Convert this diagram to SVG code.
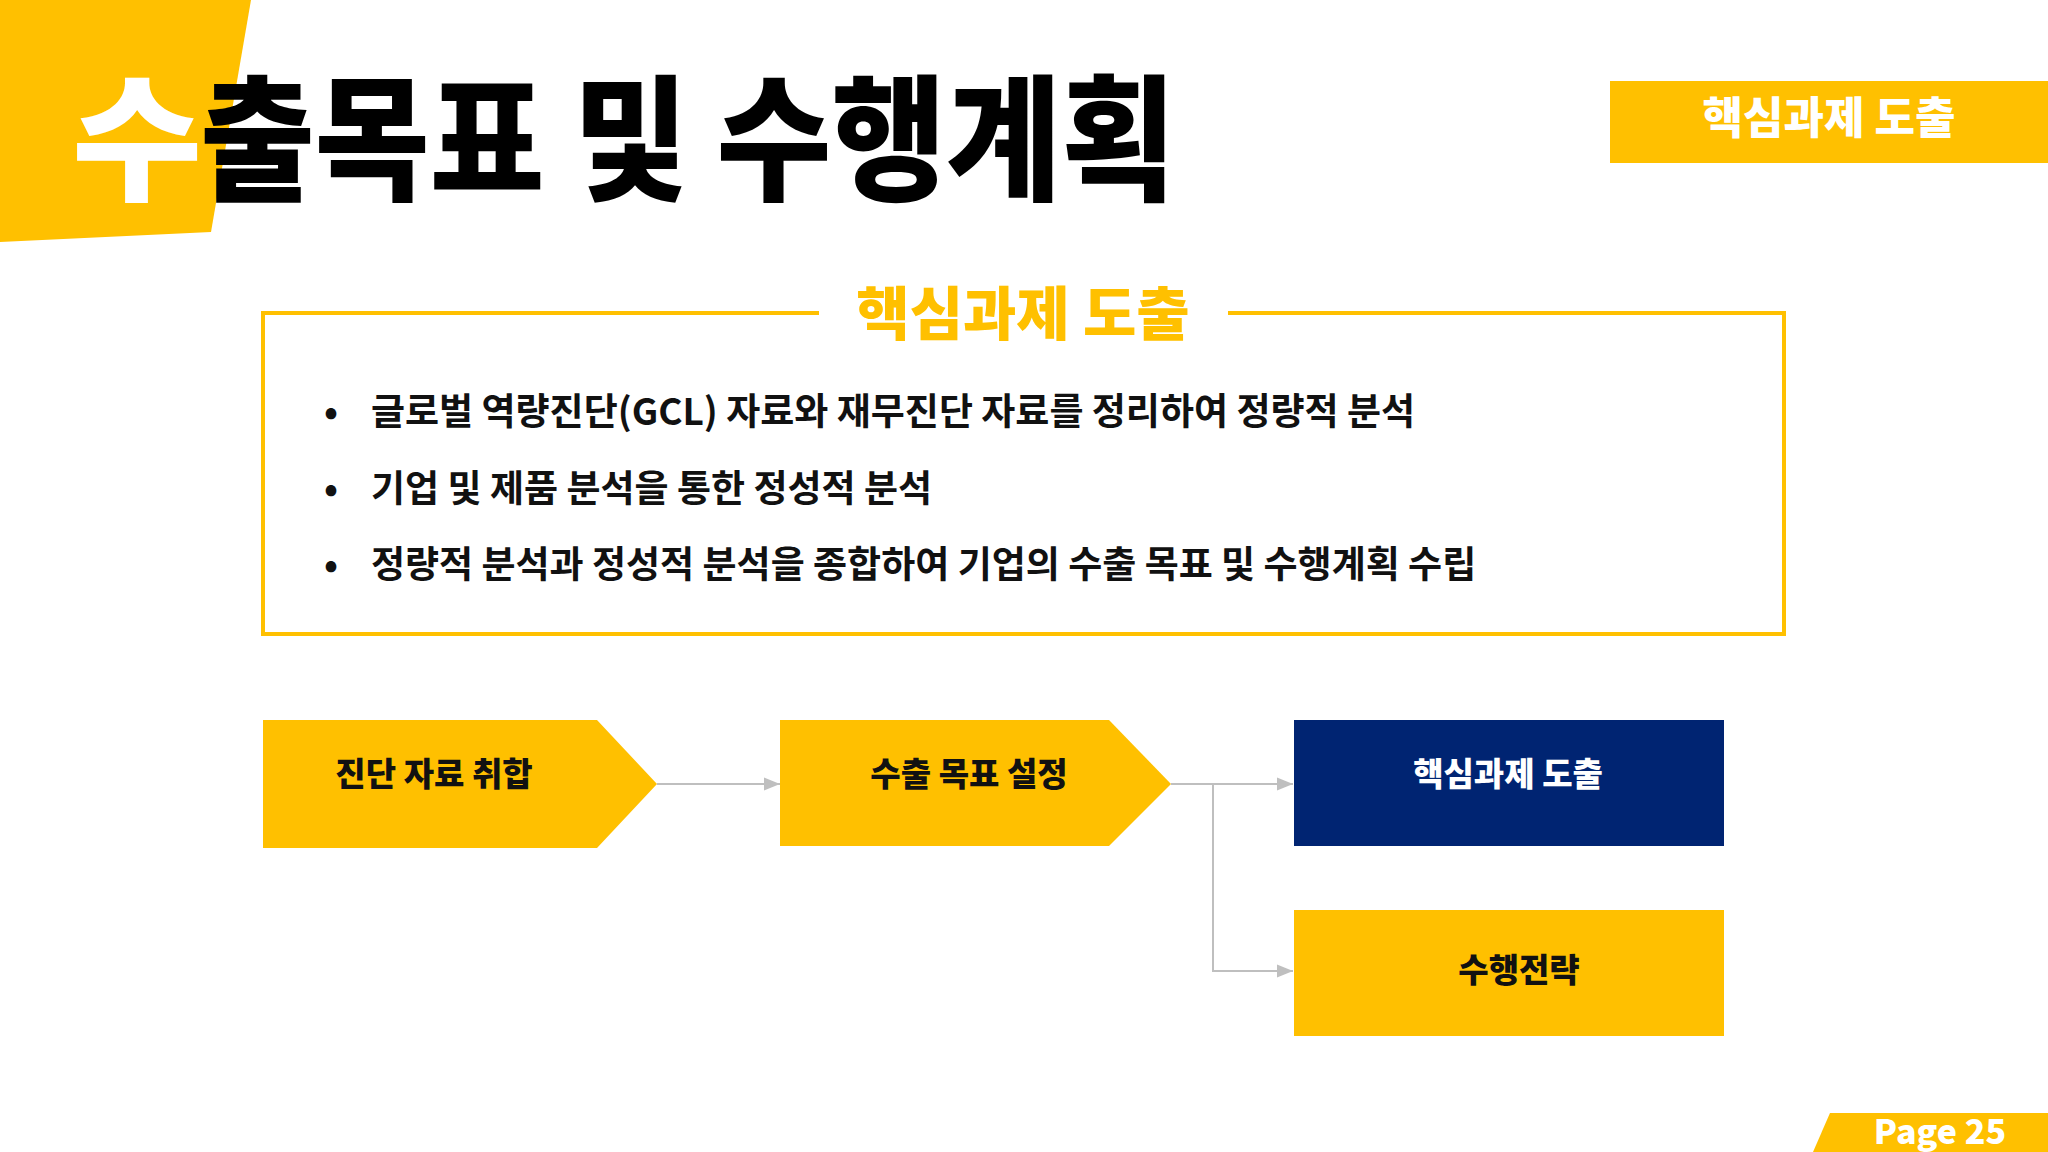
<svg xmlns="http://www.w3.org/2000/svg" width="2048" height="1152" viewBox="0 0 2048 1152">
<defs>
<style>
text{font-family:"Noto Sans CJK KR","Noto Sans",sans-serif;font-weight:900}
.y{fill:#FFC000}
.b{font-size:37px;font-weight:700;fill:#111}
.n{font-size:33px;text-anchor:middle;fill:#111}
.w{fill:#fff}
.c{stroke:#bfbfbf;stroke-width:2;fill:none}
</style>
<marker id="a" viewBox="0 0 10 10" refX="10" refY="5" markerWidth="8" markerHeight="8" orient="auto"><path d="M0,1L10,5L0,9z" fill="#bfbfbf"/></marker>
</defs>
<rect width="2048" height="1152" fill="#fff"/>
<polygon class="y" points="0,0 251,0 211,232 0,242"/>
<text x="72" y="190" font-size="136" fill="#fff" textLength="130" lengthAdjust="spacingAndGlyphs">수</text>
<text x="200" y="190" font-size="136" fill="#000" textLength="976" lengthAdjust="spacingAndGlyphs">출목표 및 수행계획</text>
<g id="tag"><rect x="1610" y="81" width="438" height="82" class="y"/><text x="1829" y="134" font-size="44" fill="#fff" text-anchor="middle">핵심과제 도출</text></g>
<g id="box">
<rect x="263" y="313" width="1521" height="321" fill="none" stroke="#FFC000" stroke-width="4"/>
<rect x="819" y="290" width="409" height="50" fill="#fff"/>
<text x="1023" y="335" font-size="58" fill="#FFC000" text-anchor="middle">핵심과제 도출</text>
<text class="b" x="324" y="425">•</text><text class="b" x="371" y="425">글로벌 역량진단(GCL) 자료와 재무진단 자료를 정리하여 정량적 분석</text>
<text class="b" x="324" y="502">•</text><text class="b" x="371" y="502">기업 및 제품 분석을 통한 정성적 분석</text>
<text class="b" x="324" y="578">•</text><text class="b" x="371" y="578">정량적 분석과 정성적 분석을 종합하여 기업의 수출 목표 및 수행계획 수립</text>
</g>
<g id="connectors">
<line class="c" x1="657" y1="784" x2="780" y2="784" marker-end="url(#a)"/>
<line class="c" x1="1171" y1="784" x2="1293" y2="784" marker-end="url(#a)"/>
<polyline class="c" points="1213,784 1213,971 1293,971" marker-end="url(#a)"/>
</g>
<g id="n1"><polygon class="y" points="263,720 597,720 657,784 597,848 263,848"/><text class="n" x="434" y="786">진단 자료 취합</text></g>
<g id="n2"><polygon class="y" points="780,720 1109,720 1171,784 1109,846 780,846"/><text class="n" x="969" y="786">수출 목표 설정</text></g>
<g id="n3"><rect x="1294" y="720" width="430" height="126" fill="#002472"/><text class="n w" x="1508" y="786">핵심과제 도출</text></g>
<g id="n4"><rect x="1294" y="910" width="430" height="126" class="y"/><text class="n" x="1519" y="982">수행전략</text></g>
<g id="page"><polygon class="y" points="1830,1113 2048,1113 2048,1152 1813,1152"/><text x="1940" y="1144" font-size="34" fill="#fff" text-anchor="middle" font-family="Noto Sans">Page 25</text></g>
</svg>
